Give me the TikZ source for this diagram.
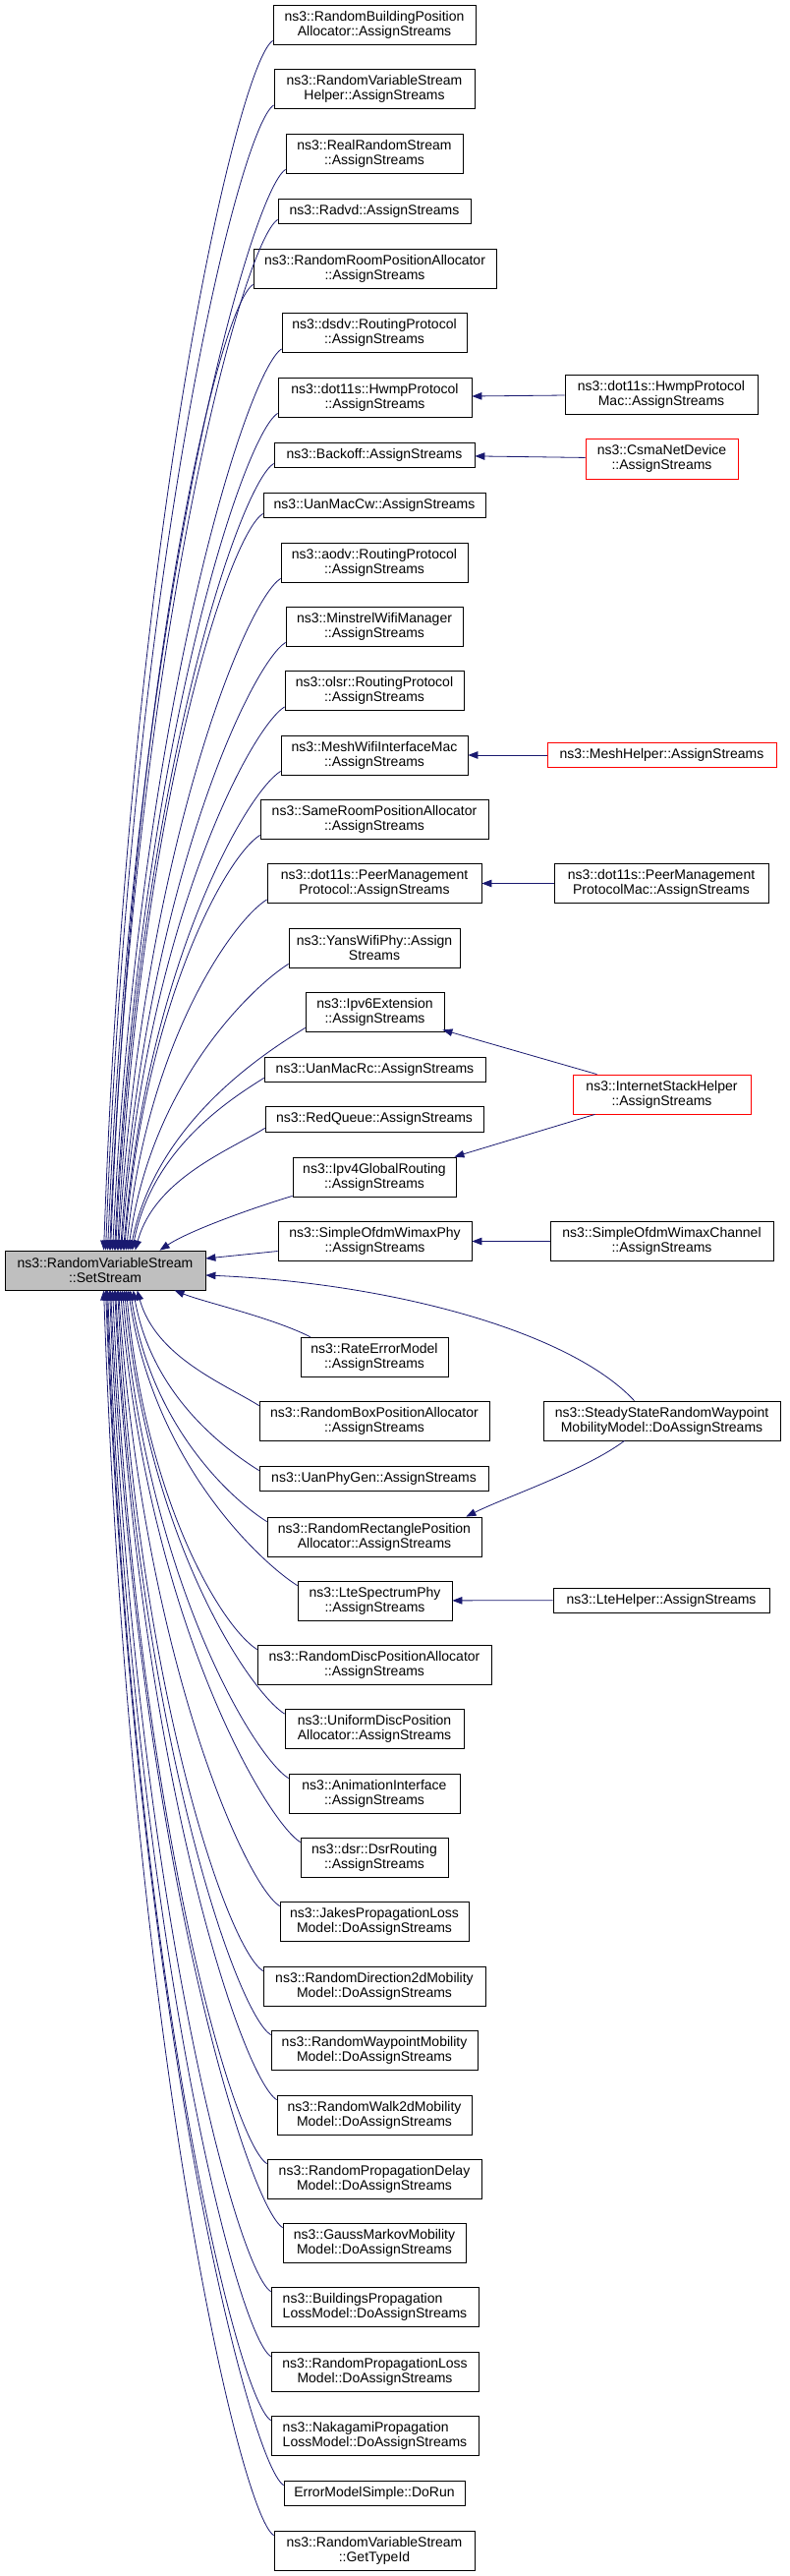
\documentclass[tikz,border=0pt]{standalone}
\usepackage{fontspec}
\setmainfont{Liberation Sans}
\usetikzlibrary{arrows.meta}
\definecolor{navyline}{RGB}{25,25,112}
\definecolor{grayfill}{RGB}{191,191,191}
\newcommand{\upe}[4]{\draw[edge] ([yshift=4pt]#1.south west) .. controls +(-35,22) and +(#3,#4) .. ([xshift=#2pt]ss.north west);}
\newcommand{\dne}[4]{\draw[edge] ([yshift=-5pt]#1.north west) .. controls +(-35,-22) and +(#3,#4) .. ([xshift=#2pt]ss.south west);}
\begin{document}
\begin{tikzpicture}[x=1pt,y=-1pt,
  box/.style={draw=black, line width=0.8pt, fill=white, inner sep=0pt, align=center, font=\fontsize{14}{15}\selectfont},
  redbox/.style={box, draw=red},
  graybox/.style={box, fill=grayfill},
  edge/.style={draw=navyline, line width=0.8pt, -{Triangle[length=10pt,width=7.5pt]}}]
\useasboundingbox (0,0) rectangle (803,2620);
\fill[white] (0,0) rectangle (803,2620);
% middle / right column nodes
\node[box,minimum width=206pt,minimum height=40pt] (rbpa) at (381,25) {ns3::RandomBuildingPosition\\Allocator::AssignStreams};
\node[box,minimum width=204pt,minimum height=40pt] (rvsh) at (381,90.5) {ns3::RandomVariableStream\\Helper::AssignStreams};
\node[box,minimum width=180pt,minimum height=40pt] (rrs) at (381,156) {ns3::RealRandomStream\\::AssignStreams};
\node[box,minimum width=196pt,minimum height=25pt] (radvd) at (381,214.5) {ns3::Radvd::AssignStreams};
\node[box,minimum width=247pt,minimum height=40pt] (rrpa) at (381.5,273) {ns3::RandomRoomPositionAllocator\\::AssignStreams};
\node[box,minimum width=188pt,minimum height=40pt] (dsdv) at (381,338.5) {ns3::dsdv::RoutingProtocol\\::AssignStreams};
\node[box,minimum width=197pt,minimum height=40pt] (hwmp) at (381.5,404) {ns3::dot11s::HwmpProtocol\\::AssignStreams};
\node[box,minimum width=196pt,minimum height=40pt] (hwmpmac) at (673,401) {ns3::dot11s::HwmpProtocol\\Mac::AssignStreams};
\node[box,minimum width=204pt,minimum height=25pt] (backoff) at (381,462.5) {ns3::Backoff::AssignStreams};
\node[redbox,minimum width=155pt,minimum height=41pt] (csma) at (673.5,466.5) {ns3::CsmaNetDevice\\::AssignStreams};
\node[box,minimum width=226pt,minimum height=25pt] (uanmaccw) at (381,513.5) {ns3::UanMacCw::AssignStreams};
\node[box,minimum width=190pt,minimum height=40pt] (aodv) at (381,572) {ns3::aodv::RoutingProtocol\\::AssignStreams};
\node[box,minimum width=180pt,minimum height=40pt] (minstrel) at (381,637) {ns3::MinstrelWifiManager\\::AssignStreams};
\node[box,minimum width=182pt,minimum height=40pt] (olsr) at (381,702.5) {ns3::olsr::RoutingProtocol\\::AssignStreams};
\node[box,minimum width=190pt,minimum height=40pt] (meshwifi) at (381,768) {ns3::MeshWifiInterfaceMac\\::AssignStreams};
\node[redbox,minimum width=233pt,minimum height=25pt] (meshhelper) at (673.5,768) {ns3::MeshHelper::AssignStreams};
\node[box,minimum width=232pt,minimum height=40pt] (sameroom) at (381,833) {ns3::SameRoomPositionAllocator\\::AssignStreams};
\node[box,minimum width=218pt,minimum height=40pt] (peer) at (381,898.5) {ns3::dot11s::PeerManagement\\Protocol::AssignStreams};
\node[box,minimum width=218pt,minimum height=40pt] (peermac) at (673,898.5) {ns3::dot11s::PeerManagement\\ProtocolMac::AssignStreams};
\node[box,minimum width=174pt,minimum height=40pt] (yans) at (381,964) {ns3::YansWifiPhy::Assign\\Streams};
\node[box,minimum width=141pt,minimum height=40pt] (ipv6) at (381.5,1029) {ns3::Ipv6Extension\\::AssignStreams};
\node[box,minimum width=225pt,minimum height=25pt] (uanmacrc) at (381.5,1087.5) {ns3::UanMacRc::AssignStreams};
\node[redbox,minimum width=181pt,minimum height=40pt] (ish) at (673.5,1113) {ns3::InternetStackHelper\\::AssignStreams};
\node[box,minimum width=222pt,minimum height=26pt] (redq) at (381,1138) {ns3::RedQueue::AssignStreams};
\node[box,minimum width=166pt,minimum height=40pt] (ipv4) at (381,1197) {ns3::Ipv4GlobalRouting\\::AssignStreams};
\node[box,minimum width=197pt,minimum height=40pt] (sowp) at (381.5,1262.5) {ns3::SimpleOfdmWimaxPhy\\::AssignStreams};
\node[box,minimum width=227pt,minimum height=40pt] (sowc) at (673.5,1262.5) {ns3::SimpleOfdmWimaxChannel\\::AssignStreams};
\node[graybox,minimum width=204pt,minimum height=40pt] (ss) at (107,1292) {ns3::RandomVariableStream\\::SetStream};
\node[box,minimum width=150pt,minimum height=40pt] (rate) at (381,1380) {ns3::RateErrorModel\\::AssignStreams};
\node[box,minimum width=234pt,minimum height=40pt] (rbox) at (381,1445) {ns3::RandomBoxPositionAllocator\\::AssignStreams};
\node[box,minimum width=241pt,minimum height=40pt] (steady) at (673.5,1445) {ns3::SteadyStateRandomWaypoint\\MobilityModel::DoAssignStreams};
\node[box,minimum width=233pt,minimum height=25pt] (uanphy) at (380.5,1503.5) {ns3::UanPhyGen::AssignStreams};
\node[box,minimum width=218pt,minimum height=40pt] (rrect) at (381,1563) {ns3::RandomRectanglePosition\\Allocator::AssignStreams};
\node[box,minimum width=157pt,minimum height=40pt] (lte) at (381.5,1628) {ns3::LteSpectrumPhy\\::AssignStreams};
\node[box,minimum width=220pt,minimum height=25pt] (ltehelper) at (673,1627.5) {ns3::LteHelper::AssignStreams};
\node[box,minimum width=238pt,minimum height=40pt] (rdisc) at (381,1693) {ns3::RandomDiscPositionAllocator\\::AssignStreams};
\node[box,minimum width=182pt,minimum height=40pt] (udisc) at (381,1758.5) {ns3::UniformDiscPosition\\Allocator::AssignStreams};
\node[box,minimum width=174pt,minimum height=40pt] (anim) at (381,1824) {ns3::AnimationInterface\\::AssignStreams};
\node[box,minimum width=150pt,minimum height=40pt] (dsr) at (381,1889) {ns3::dsr::DsrRouting\\::AssignStreams};
\node[box,minimum width=192pt,minimum height=40pt] (jakes) at (381,1954) {ns3::JakesPropagationLoss\\Model::DoAssignStreams};
\node[box,minimum width=226pt,minimum height=40pt] (rdir) at (381,2020) {ns3::RandomDirection2dMobility\\Model::DoAssignStreams};
\node[box,minimum width=210pt,minimum height=40pt] (rway) at (381,2085) {ns3::RandomWaypointMobility\\Model::DoAssignStreams};
\node[box,minimum width=198pt,minimum height=40pt] (rwalk) at (381,2151) {ns3::RandomWalk2dMobility\\Model::DoAssignStreams};
\node[box,minimum width=218pt,minimum height=40pt] (rpdelay) at (381,2216) {ns3::RandomPropagationDelay\\Model::DoAssignStreams};
\node[box,minimum width=186pt,minimum height=40pt] (gauss) at (381,2281) {ns3::GaussMarkovMobility\\Model::DoAssignStreams};
\node[box,align=left,minimum width=211pt,minimum height=40pt] (bldg) at (381.5,2346) {ns3::BuildingsPropagation\\LossModel::DoAssignStreams};
\node[box,minimum width=211pt,minimum height=40pt] (rploss) at (381.5,2412) {ns3::RandomPropagationLoss\\Model::DoAssignStreams};
\node[box,align=left,minimum width=211pt,minimum height=40pt] (naka) at (381.5,2477) {ns3::NakagamiPropagation\\LossModel::DoAssignStreams};
\node[box,minimum width=184pt,minimum height=25pt] (ems) at (381,2535.5) {ErrorModelSimple::DoRun};
\node[box,minimum width=204pt,minimum height=40pt] (gettype) at (381,2594) {ns3::RandomVariableStream\\::GetTypeId};
% edges from upper nodes
\upe{rbpa}{101}{26}{-736}
\upe{rvsh}{103}{26}{-697}
\upe{rrs}{105}{27}{-658}
\upe{radvd}{107}{26}{-627}
\upe{rrpa}{108}{22}{-587}
\upe{dsdv}{110}{26}{-548}
\upe{hwmp}{112}{25}{-509}
\upe{backoff}{113}{24}{-478}
\upe{uanmaccw}{115}{22}{-448}
\upe{aodv}{116}{25}{-408}
\upe{minstrel}{118}{25}{-369}
\upe{olsr}{119}{25}{-330}
\upe{meshwifi}{121}{24}{-290}
\upe{sameroom}{122}{21}{-251}
\upe{peer}{124}{21}{-212}
\upe{yans}{126}{24}{-173}
\upe{ipv6}{128}{27}{-134}
\upe{uanmacrc}{130}{20}{-103}
\upe{redq}{133}{20}{-73}
\draw[edge] ([yshift=1pt]ipv4.south west) .. controls +(-40,12) and +(30,-20) .. ([xshift=158pt]ss.north west);
\draw[edge] ([yshift=-10pt]sowp.west) -- ([yshift=12pt]ss.east);
% edges from lower nodes
\draw[edge] ([xshift=10pt]rate.north west) .. controls +(-40,-20) and +(30,12) .. ([xshift=173pt]ss.south west);
\dne{rbox}{135}{19}{68}
\dne{uanphy}{131}{19}{107}
\dne{rrect}{128}{21}{139}
\dne{lte}{126}{26}{178}
\dne{rdisc}{124}{20}{217}
\dne{udisc}{122}{24}{256}
\dne{anim}{120}{25}{295}
\dne{dsr}{118}{27}{334}
\dne{jakes}{116}{25}{373}
\dne{rdir}{115}{22}{413}
\dne{rway}{113}{24}{452}
\dne{rwalk}{112}{25}{491}
\dne{rpdelay}{110}{24}{530}
\dne{gauss}{108}{26}{569}
\dne{bldg}{107}{24}{608}
\dne{rploss}{105}{25}{648}
\dne{naka}{104}{25}{687}
\dne{ems}{103}{27}{727}
\dne{gettype}{101}{26}{757}
% right column edges
\draw[edge] (hwmpmac) -- (hwmp);
\draw[edge] (csma) -- (backoff);
\draw[edge] (meshhelper) -- (meshwifi);
\draw[edge] (peermac) -- (peer);
\draw[edge] (sowc) -- (sowp);
\draw[edge] (ltehelper) -- (lte);
\draw[edge] ([xshift=-66pt]ish.north) -- ([xshift=-2pt,yshift=2pt]ipv6.south east);
\draw[edge] ([xshift=-68pt]ish.south) -- ([xshift=-2pt]ipv4.north east);
\draw[edge] ([xshift=-28pt]steady.north) .. controls +(-65,-70) and +(190,8) .. ([yshift=-5pt]ss.east);
\draw[edge] ([xshift=-38pt]steady.south) .. controls +(-40,30) and +(40,-20) .. ([xshift=-16pt]rrect.north east);
\end{tikzpicture}
\end{document}
